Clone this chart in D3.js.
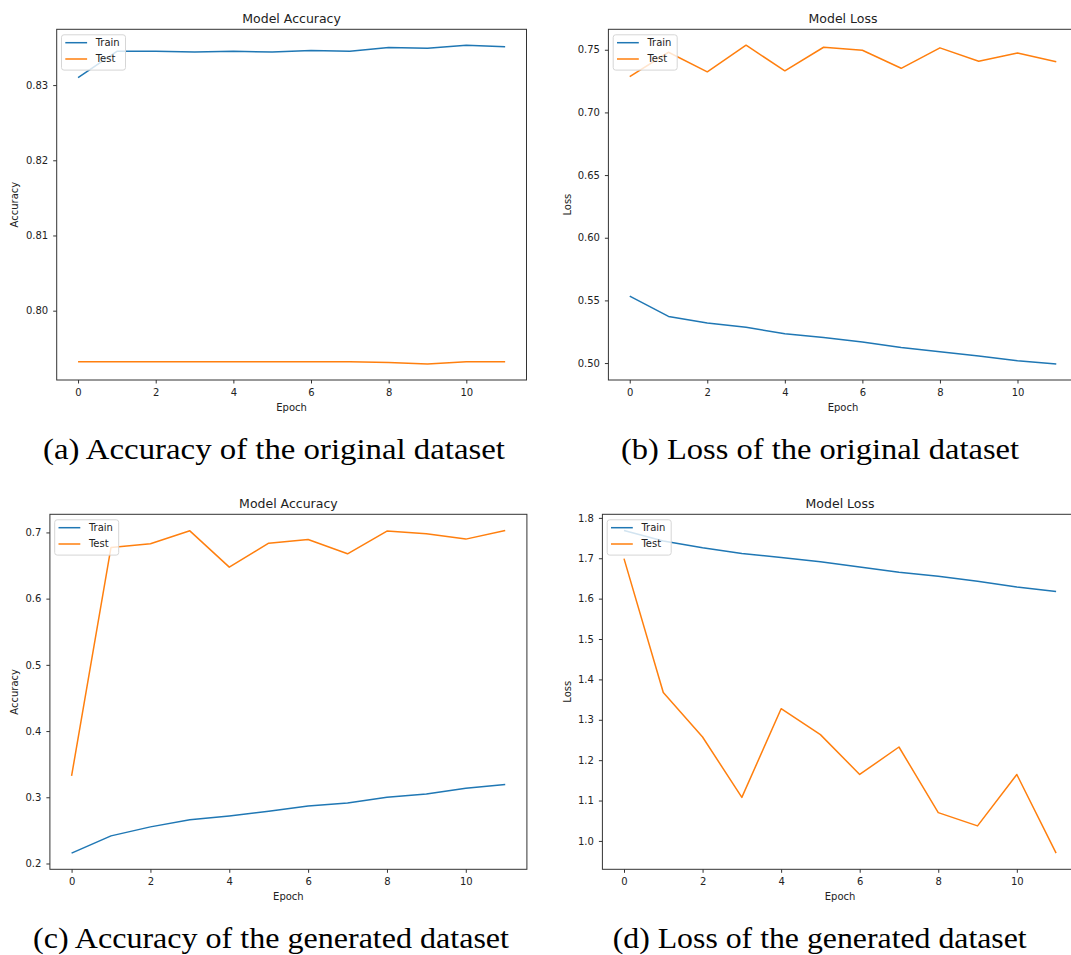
<!DOCTYPE html>
<html>
<head>
<meta charset="utf-8">
<script src="https://cdn.jsdelivr.net/npm/d3@7"></script>
<style>
  body { margin: 0; background: #fff; }
  svg { display: block; }
  text { font-family: "DejaVu Sans", sans-serif; fill: #222; }
</style>
</head>
<body>
<svg id="chart" width="1071" height="955"></svg>
<script>
// epochs on the x axis
const epochs = [0, 1, 2, 3, 4, 5, 6, 7, 8, 9, 10, 11];
const xTicks = [0, 2, 4, 6, 8, 10];

// (a) accuracy, original dataset
const accOrigTrain = [0.8310, 0.8345, 0.8345, 0.8344, 0.8345, 0.8344, 0.8346, 0.8345, 0.8350, 0.8349, 0.8353, 0.8351];
const accOrigTest  = [0.7932, 0.7932, 0.7932, 0.7932, 0.7932, 0.7932, 0.7932, 0.7932, 0.7931, 0.7929, 0.7932, 0.7932];
const accOrigTicks = [0.80, 0.81, 0.82, 0.83];

// (b) loss, original dataset
const lossOrigTrain = [0.5534, 0.5372, 0.5319, 0.5285, 0.5234, 0.5203, 0.5168, 0.5125, 0.5091, 0.5056, 0.5019, 0.4992];
const lossOrigTest  = [0.7286, 0.7480, 0.7324, 0.7536, 0.7332, 0.7520, 0.7496, 0.7352, 0.7515, 0.7408, 0.7474, 0.7404];
const lossOrigTicks = [0.50, 0.55, 0.60, 0.65, 0.70, 0.75];

// (c) accuracy, generated dataset
const accGenTrain = [0.2156, 0.2417, 0.2553, 0.2659, 0.2719, 0.2790, 0.2870, 0.2915, 0.3001, 0.3051, 0.3137, 0.3193];
const accGenTest  = [0.3323, 0.6773, 0.6828, 0.7024, 0.6476, 0.6838, 0.6894, 0.6677, 0.7020, 0.6979, 0.6899, 0.7030];
const accGenTicks = [0.2, 0.3, 0.4, 0.5, 0.6, 0.7];

// (d) loss, generated dataset
const lossGenTrain = [1.7689, 1.7425, 1.7260, 1.7120, 1.7020, 1.6915, 1.6784, 1.6653, 1.6554, 1.6430, 1.6290, 1.6175];
const lossGenTest  = [1.6990, 1.3676, 1.2573, 1.1078, 1.3274, 1.2632, 1.1646, 1.2326, 1.0701, 1.0372, 1.1646, 0.9697];
const lossGenTicks = [1.0, 1.1, 1.2, 1.3, 1.4, 1.5, 1.6, 1.7, 1.8];

const seriesNames = ["Train", "Test"];
const captions = [
  "(a) Accuracy of the original dataset",
  "(b) Loss of the original dataset",
  "(c) Accuracy of the generated dataset",
  "(d) Loss of the generated dataset"
];

const colors = ["#1f77b4", "#ff7f0e"];

const svg = d3.select("#chart");

// panel boxes (pixels) + captions
const panels = [
  {title: "Model Accuracy", ylabel: "Accuracy", train: accOrigTrain, test: accOrigTest, ticks: accOrigTicks, fmt: ".2f",
   left: 56.7, right: 526.5, top: 29.3, bottom: 380, ylabX: 14.5, cap: captions[0], capX: 43, capW: 462, capY: 459},
  {title: "Model Loss", ylabel: "Loss", train: lossOrigTrain, test: lossOrigTest, ticks: lossOrigTicks, fmt: ".2f",
   left: 608.4, right: 1077.6, top: 29.3, bottom: 380, ylabX: 567, cap: captions[1], capX: 621, capW: 398, capY: 459},
  {title: "Model Accuracy", ylabel: "Accuracy", train: accGenTrain, test: accGenTest, ticks: accGenTicks, fmt: ".1f",
   left: 49.9, right: 526.9, top: 514.3, bottom: 869.3, ylabX: 14.5, cap: captions[2], capX: 33, capW: 476, capY: 948},
  {title: "Model Loss", ylabel: "Loss", train: lossGenTrain, test: lossGenTest, ticks: lossGenTicks, fmt: ".1f",
   left: 602.4, right: 1077.7, top: 514.3, bottom: 869.3, ylabX: 567, cap: captions[3], capX: 612.7, capW: 414, capY: 948}
];

panels.forEach(drawPanel);

function drawPanel(p) {
  const g = svg.append("g");

  // matplotlib style 5% margins
  const x = d3.scaleLinear().domain([-0.55, 11.55]).range([p.left, p.right]);
  const all = p.train.concat(p.test);
  const [lo, hi] = d3.extent(all);
  const pad = (hi - lo) * 0.05;
  const y = d3.scaleLinear().domain([lo - pad, hi + pad]).range([p.bottom, p.top]);

  // axes
  const xAxis = g.append("g")
    .attr("transform", `translate(0,${p.bottom})`)
    .call(d3.axisBottom(x).tickValues(xTicks).tickFormat(d3.format("d"))
      .tickSize(3.5).tickPadding(5.5).tickSizeOuter(0));
  const yAxis = g.append("g")
    .attr("transform", `translate(${p.left},0)`)
    .call(d3.axisLeft(y).tickValues(p.ticks).tickFormat(d3.format(p.fmt))
      .tickSize(3.5).tickPadding(5).tickSizeOuter(0));
  [xAxis, yAxis].forEach(a => {
    a.attr("font-family", "DejaVu Sans").attr("font-size", 10).attr("color", "#333");
    a.select(".domain").remove();
  });

  // lines
  const line = d3.line().x((d, i) => x(epochs[i])).y(d => y(d));
  [p.train, p.test].forEach((s, i) => {
    g.append("path")
      .datum(s)
      .attr("d", line)
      .attr("fill", "none")
      .attr("stroke", colors[i])
      .attr("stroke-width", 1.5)
      .attr("stroke-linejoin", "round");
  });

  // frame
  g.append("rect")
    .attr("x", p.left).attr("y", p.top)
    .attr("width", p.right - p.left).attr("height", p.bottom - p.top)
    .attr("fill", "none").attr("stroke", "#333").attr("stroke-width", 1);

  // title
  g.append("text")
    .attr("x", (p.left + p.right) / 2)
    .attr("y", p.top - 6)
    .attr("text-anchor", "middle")
    .style("font-size", "12.5px")
    .text(p.title);

  // x label
  g.append("text")
    .attr("x", (p.left + p.right) / 2)
    .attr("y", p.bottom + 30.5)
    .attr("text-anchor", "middle")
    .style("font-size", "10px")
    .text("Epoch");

  // y label
  g.append("text")
    .attr("transform", `translate(${p.ylabX},${(p.top + p.bottom) / 2}) rotate(-90)`)
    .attr("text-anchor", "middle")
    .attr("dy", "0.35em")
    .style("font-size", "10px")
    .text(p.ylabel);

  // legend, upper left
  const lg = g.append("g").attr("transform", `translate(${p.left + 4.8},${p.top + 5.5})`);
  lg.append("rect")
    .attr("width", 64).attr("height", 35.3).attr("rx", 2.5)
    .attr("fill", "#fff").attr("fill-opacity", 0.8)
    .attr("stroke", "#d6d6d6").attr("stroke-width", 1);
  seriesNames.forEach((name, i) => {
    const ly = 7.9 + i * 16.3;
    lg.append("line")
      .attr("x1", 3.8).attr("x2", 25.6).attr("y1", ly).attr("y2", ly)
      .attr("stroke", colors[i]).attr("stroke-width", 1.5);
    lg.append("text")
      .attr("x", 34.2).attr("y", ly).attr("dy", "0.35em")
      .style("font-size", "10px")
      .text(name);
  });

  // caption under the subfigure
  svg.append("text")
    .attr("x", p.capX)
    .attr("y", p.capY)
    .attr("textLength", p.capW)
    .attr("lengthAdjust", "spacingAndGlyphs")
    .style("font-family", "'Liberation Serif', serif")
    .style("font-size", "30px")
    .style("fill", "#000")
    .text(p.cap);
}
</script>
</body>
</html>
